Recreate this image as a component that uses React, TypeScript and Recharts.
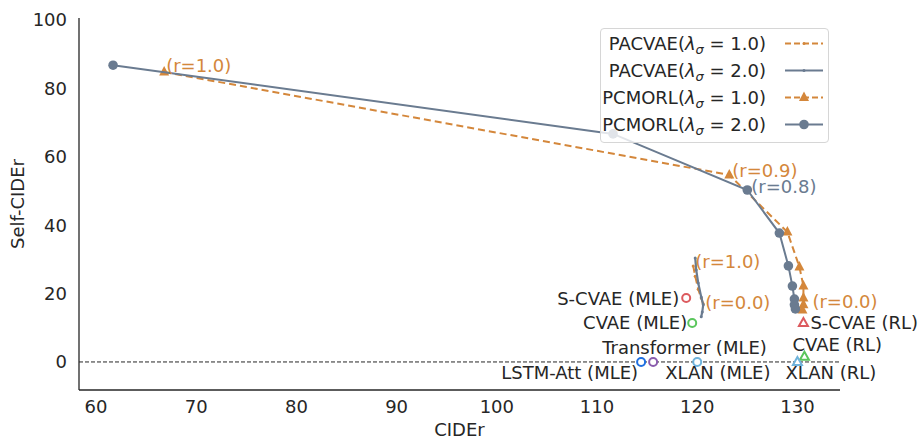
import { ScatterChart, Scatter, XAxis, YAxis, ReferenceLine } from "recharts";

const FONT = '"DejaVu Sans", sans-serif';
const INK = "#262626";
const ORANGE = "#d4873b";
const SLATE = "#6a7b90";
const FS = 18;

// PCMORL trade-off curves (CIDEr, Self-CIDEr), r going from 1.0 to 0.0
const pcmorl2 = [
  { x: 61.7, y: 86.8 },
  { x: 111.6, y: 66.7 },
  { x: 125.0, y: 50.3 },
  { x: 128.2, y: 37.7 },
  { x: 129.1, y: 28.1 },
  { x: 129.5, y: 22.2 },
  { x: 129.7, y: 18.4 },
  { x: 129.7, y: 16.7 },
  { x: 129.8, y: 15.5 },
];

const pcmorl1 = [
  { x: 66.8, y: 84.8 },
  { x: 123.2, y: 54.7 },
  { x: 129.0, y: 38.0 },
  { x: 130.2, y: 27.8 },
  { x: 130.6, y: 22.2 },
  { x: 130.6, y: 18.7 },
  { x: 130.6, y: 16.7 },
  { x: 130.5, y: 15.2 },
];

// PACVAE curves, all squeezed around CIDEr 120
const pacvae2 = [
  { x: 119.8, y: 30.4 },
  { x: 119.9, y: 26.9 },
  { x: 120.1, y: 23.1 },
  { x: 120.4, y: 19.0 },
  { x: 120.6, y: 16.7 },
  { x: 120.5, y: 14.6 },
  { x: 120.4, y: 13.2 },
];

const pacvae1 = [
  { x: 119.6, y: 28.1 },
  { x: 119.8, y: 25.1 },
  { x: 120.1, y: 21.3 },
  { x: 120.4, y: 18.7 },
  { x: 120.6, y: 17.0 },
];

// single-point baselines
const baselineNames = [
  "LSTM-Att (MLE)",
  "Transformer (MLE)",
  "XLAN (MLE)",
  "S-CVAE (MLE)",
  "CVAE (MLE)",
  "S-CVAE (RL)",
  "CVAE (RL)",
  "XLAN (RL)",
];
const baselineCider = [114.4, 115.6, 120.0, 118.9, 119.5, 130.6, 130.7, 130.0];
const baselineSelfCider = [0, 0, 0, 18.7, 11.4, 11.4, 1.5, 0];

const rLabels = ["(r=1.0)", "(r=0.9)", "(r=0.8)", "(r=1.0)", "(r=0.0)", "(r=0.0)"];

const xTicks = [60, 70, 80, 90, 100, 110, 120, 130];
const yTicks = [0, 20, 40, 60, 80, 100];

// how each baseline is drawn and where its name sits
const baselineStyle = [
  { color: "#1f6fe0", kind: "ring", anchor: "end", dx: -3, dy: 11 },
  { color: "#8a5cad", kind: "ring", anchor: "start", dx: -51, dy: -14 },
  { color: "#6fb3dc", kind: "ring", anchor: "start", dx: -32, dy: 11 },
  { color: "#dc5a5e", kind: "ring", anchor: "end", dx: -7, dy: 0 },
  { color: "#5ac65c", kind: "ring", anchor: "end", dx: -5, dy: 0 },
  { color: "#dc5a5e", kind: "openTri", anchor: "start", dx: 7, dy: 0 },
  { color: "#5ac65c", kind: "openTri", anchor: "start", dx: -12, dy: -12 },
  { color: "#6fb3dc", kind: "openTri", anchor: "start", dx: -12, dy: 11 },
];

const rAnchors = [
  pcmorl1[0],
  pcmorl1[1],
  pcmorl2[2],
  pacvae1[0],
  pacvae1[pacvae1.length - 1],
  pcmorl1[pcmorl1.length - 1],
];
const rStyle = [
  { color: ORANGE, dx: 2, dy: -7 },
  { color: ORANGE, dx: 3, dy: -4 },
  { color: SLATE, dx: 4, dy: -3 },
  { color: ORANGE, dx: 2, dy: -4 },
  { color: ORANGE, dx: 2, dy: -1 },
  { color: ORANGE, dx: 10, dy: -8 },
];

const baselineData = baselineNames.map((name, i) => ({
  x: baselineCider[i],
  y: baselineSelfCider[i],
  name,
  idx: i,
}));
const rData = rLabels.map((text, i) => ({ x: rAnchors[i].x, y: rAnchors[i].y, text, idx: i }));

function Mark({ cx, cy, kind, color }: any) {
  if (cx == null || cy == null) return null;
  switch (kind) {
    case "disc":
      return <circle cx={cx} cy={cy} r={4.8} fill={color} />;
    case "tri":
      return (
        <polygon
          points={`${cx},${cy - 6} ${cx - 5},${cy + 3.5} ${cx + 5},${cy + 3.5}`}
          fill={color}
        />
      );
    case "dot":
      return <circle cx={cx} cy={cy} r={1.5} fill={color} />;
    case "ring":
      return <circle cx={cx} cy={cy} r={4} fill="#fff" stroke={color} strokeWidth={2} />;
    case "openTri":
      return (
        <polygon
          points={`${cx},${cy - 5} ${cx - 4.5},${cy + 3} ${cx + 4.5},${cy + 3}`}
          fill="#fff"
          stroke={color}
          strokeWidth={2}
        />
      );
    default:
      return null;
  }
}

const legendRows = [
  { name: "PACVAE", lam: "1.0", color: ORANGE, dash: "6 3", kind: "dot" },
  { name: "PACVAE", lam: "2.0", color: SLATE, dash: undefined, kind: "dot" },
  { name: "PCMORL", lam: "1.0", color: ORANGE, dash: "6 3", kind: "tri" },
  { name: "PCMORL", lam: "2.0", color: SLATE, dash: undefined, kind: "disc" },
];

function LegendBox() {
  return (
    <div
      style={{
        position: "absolute",
        left: 600,
        top: 28,
        width: 229,
        height: 115,
        boxSizing: "border-box",
        border: "1px solid #d6d6d6",
        borderRadius: 4,
        background: "rgba(255,255,255,0.8)",
        fontFamily: FONT,
        fontSize: FS,
        color: INK,
        paddingTop: 1,
      }}
    >
      {legendRows.map((r, i) => (
        <div key={i} style={{ display: "flex", alignItems: "center", height: 27, lineHeight: "27px" }}>
          <div style={{ width: 165, textAlign: "right", whiteSpace: "nowrap" }}>
            {r.name}(<i>λ</i>
            <sub style={{ fontSize: "0.72em", verticalAlign: "-0.3em", lineHeight: 0 }}>
              <i>σ</i>
            </sub>
            {" = "}
            {r.lam})
          </div>
          <svg width={40} height={27} style={{ marginLeft: 18 }}>
            <line
              x1={1}
              x2={39}
              y1={13.5}
              y2={13.5}
              stroke={r.color}
              strokeWidth={2}
              strokeDasharray={r.dash}
            />
            <Mark cx={20} cy={13.5} kind={r.kind} color={r.color} />
          </svg>
        </div>
      ))}
    </div>
  );
}

const tickStyle = { fill: INK, fontSize: FS, fontFamily: FONT };

export default function App() {
  return (
    <div style={{ position: "absolute", left: 0, top: 0, width: 923, height: 441, background: "#fff" }}>
      <ScatterChart
        width={923}
        height={441}
        margin={{ top: 18, right: 83, bottom: 0, left: 0 }}
        style={{ fontFamily: FONT, overflow: "visible" }}
      >
        <XAxis
          type="number"
          dataKey="x"
          domain={[58.3, 134.25]}
          ticks={xTicks}
          height={51}
          tickLine={false}
          tickSize={6}
          tickMargin={4}
          axisLine={{ stroke: INK, strokeWidth: 1.3 }}
          tick={tickStyle}
          label={{ value: "CIDEr", position: "insideBottom", offset: 5, fill: INK, fontSize: FS }}
        />
        <YAxis
          type="number"
          dataKey="y"
          domain={[-8.2, 100.6]}
          ticks={yTicks}
          width={79}
          tickLine={false}
          tickSize={6}
          tickMargin={6}
          axisLine={{ stroke: INK, strokeWidth: 1.3 }}
          tick={tickStyle}
          label={{
            value: "Self-CIDEr",
            angle: -90,
            position: "insideLeft",
            offset: 18,
            fill: INK,
            fontSize: FS,
            style: { textAnchor: "middle" },
          }}
        />
        <ReferenceLine y={0} stroke={INK} strokeWidth={1} strokeDasharray="4 2" />

        <Scatter
          name="PACVAE(λσ = 1.0)"
          data={pacvae1}
          fill={ORANGE}
          line={{ stroke: ORANGE, strokeWidth: 2, strokeDasharray: "7 4" }}
          shape={(p: any) => <Mark cx={p.cx} cy={p.cy} kind="dot" color={ORANGE} />}
          isAnimationActive={false}
        />
        <Scatter
          name="PACVAE(λσ = 2.0)"
          data={pacvae2}
          fill={SLATE}
          line={{ stroke: SLATE, strokeWidth: 2.2 }}
          shape={(p: any) => <Mark cx={p.cx} cy={p.cy} kind="dot" color={SLATE} />}
          isAnimationActive={false}
        />
        <Scatter
          name="PCMORL(λσ = 1.0)"
          data={pcmorl1}
          fill={ORANGE}
          line={{ stroke: ORANGE, strokeWidth: 2, strokeDasharray: "7 4" }}
          shape={(p: any) => <Mark cx={p.cx} cy={p.cy} kind="tri" color={ORANGE} />}
          isAnimationActive={false}
        />
        <Scatter
          name="PCMORL(λσ = 2.0)"
          data={pcmorl2}
          fill={SLATE}
          line={{ stroke: SLATE, strokeWidth: 2 }}
          shape={(p: any) => <Mark cx={p.cx} cy={p.cy} kind="disc" color={SLATE} />}
          isAnimationActive={false}
        />

        <Scatter
          name="baselines"
          data={baselineData}
          isAnimationActive={false}
          shape={(p: any) => {
            const s = baselineStyle[p.payload.idx];
            return (
              <g>
                <Mark cx={p.cx} cy={p.cy} kind={s.kind} color={s.color} />
                <text
                  x={p.cx + s.dx}
                  y={p.cy + s.dy}
                  textAnchor={s.anchor}
                  dominantBaseline="central"
                  fill={INK}
                  fontSize={FS}
                  fontFamily={FONT}
                >
                  {p.payload.name}
                </text>
              </g>
            );
          }}
        />
        <Scatter
          name="r labels"
          data={rData}
          isAnimationActive={false}
          shape={(p: any) => {
            const s = rStyle[p.payload.idx];
            return (
              <text
                x={p.cx + s.dx}
                y={p.cy + s.dy}
                dominantBaseline="central"
                fill={s.color}
                fontSize={FS}
                fontFamily={FONT}
              >
                {p.payload.text}
              </text>
            );
          }}
        />
      </ScatterChart>
      <LegendBox />
    </div>
  );
}
